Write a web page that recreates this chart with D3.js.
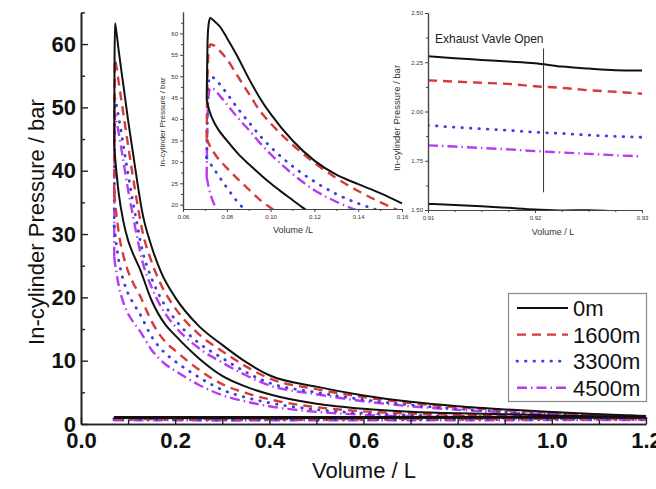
<!DOCTYPE html>
<html>
<head>
<meta charset="utf-8">
<script src="https://cdn.jsdelivr.net/npm/d3@7/dist/d3.min.js"></script>
<style>
  html, body { margin: 0; padding: 0; background: #fff; }
  svg { display: block; font-family: "Liberation Sans", Arial, Helvetica, sans-serif; }
</style>
</head>
<body>
<svg id="chart" width="656" height="489"></svg>
<script>
// ---------------- data ----------------
const altitudes = ["0m", "1600m", "3300m", "4500m"];

// Main P-V diagram: combustion rise + expansion stroke (volume in L, pressure in bar)
const expansionVolume = [0.0705, 0.0712, 0.0722, 0.075, 0.08, 0.09, 0.10, 0.11, 0.12, 0.13, 0.15, 0.17, 0.20,
  0.25, 0.30, 0.35, 0.40, 0.50, 0.60, 0.70, 0.80, 0.90, 1.00, 1.10, 1.20];
const expansion0m    = [44, 57, 63.3, 62, 59, 53.5, 48, 43, 38, 33.5, 28, 24, 20, 15.5, 12.5, 9.8, 7.7, 5.9, 4.5, 3.5, 2.8, 2.3, 1.9, 1.55, 1.25];
const expansion1600m = [36.5, 51, 57.5, 56.5, 54, 49, 44, 39.2, 34.6, 30.6, 25.6, 22, 18.3, 14.2, 11.5, 9.1, 7.2, 5.5, 4.25, 3.3, 2.65, 2.17, 1.8, 1.48, 1.2];
const expansion3300m = [31.2, 46, 51.5, 50.5, 48.5, 44, 39.5, 35.2, 31.2, 27.5, 23, 19.8, 16.5, 12.8, 10.4, 8.2, 6.5, 5.0, 3.85, 3.0, 2.4, 1.94, 1.62, 1.35, 1.12];
const expansion4500m = [26.4, 43, 49, 48, 46, 41.5, 37, 33, 29.2, 25.8, 21.6, 18.5, 15.4, 12, 9.7, 7.7, 6.1, 4.7, 3.6, 2.8, 2.25, 1.84, 1.54, 1.28, 1.08];

// Main P-V diagram: compression stroke
const compressionVolume = [0.0705, 0.072, 0.075, 0.08, 0.09, 0.10, 0.11, 0.125, 0.15, 0.18, 0.20, 0.25, 0.30,
  0.35, 0.40, 0.50, 0.60, 0.70, 0.80, 0.90, 1.00, 1.10, 1.20];
const compression0m    = [44, 42.5, 40, 36.5, 32, 29, 27, 24.5, 19.5, 15.6, 14, 10.4, 7.6, 5.9, 4.7, 3.2, 2.4, 1.95, 1.7, 1.55, 1.35, 1.2, 1.05];
const compression1600m = [36.5, 35.3, 33.2, 30.3, 26.6, 24.1, 22.4, 20.3, 16.2, 12.9, 11.6, 8.6, 6.3, 4.9, 3.9, 2.65, 2.0, 1.65, 1.45, 1.3, 1.15, 1.02, 0.9];
const compression3300m = [31.2, 30.2, 28.4, 25.9, 22.7, 20.6, 19.2, 17.4, 13.8, 11.1, 9.9, 7.4, 5.4, 4.2, 3.35, 2.27, 1.7, 1.4, 1.22, 1.1, 0.98, 0.88, 0.78];
const compression4500m = [26.4, 25.5, 24, 21.9, 19.2, 17.4, 16.2, 14.7, 11.7, 9.4, 8.4, 6.2, 4.55, 3.55, 2.8, 1.92, 1.45, 1.18, 1.03, 0.93, 0.82, 0.73, 0.65];

// Gas exchange (exhaust and intake strokes)
const gasExchangeVolume = [0.07, 0.30, 0.60, 0.90, 1.20];
const exhaust0m    = [1.12, 1.10, 1.12, 1.15, 1.20];
const exhaust1600m = [0.98, 0.96, 0.98, 1.00, 1.05];
const exhaust3300m = [0.86, 0.84, 0.86, 0.88, 0.92];
const exhaust4500m = [0.76, 0.74, 0.76, 0.78, 0.82];
const intake0m     = [0.95, 0.92, 0.94, 0.97, 1.00];
const intake1600m  = [0.80, 0.78, 0.80, 0.83, 0.86];
const intake3300m  = [0.68, 0.66, 0.68, 0.70, 0.74];
const intake4500m  = [0.58, 0.56, 0.58, 0.60, 0.63];

// Detail panel near TDC
const tdcExpansionVolume = [0.0708, 0.0712, 0.0718, 0.0725, 0.074, 0.077, 0.08, 0.085, 0.09, 0.095, 0.10, 0.11, 0.12, 0.13, 0.14, 0.15, 0.16];
const tdcExpansion0m    = [44.5, 58, 62.5, 63.6, 63, 61.5, 59, 54.5, 49.5, 45, 41.2, 35, 30.3, 27, 24.8, 22.7, 20.3];
const tdcExpansion1600m = [35.5, 50, 56, 57.4, 57.2, 55.8, 54, 50, 46, 42, 39, 34, 29.8, 26.2, 23.2, 20.6, 18.3];
const tdcExpansion3300m = [31, 44, 49, 50, 49.6, 48, 46, 42.5, 39.3, 36.2, 33.5, 29, 25.4, 22.5, 20.3, 18.6, 17.2];
const tdcExpansion4500m = [26.5, 40, 46, 47.2, 47, 45.3, 43.5, 40.3, 37.5, 34.5, 31.8, 27.2, 23.4, 20.7, 18.6, 17, 15.8];
const tdcCompressionVolume = [0.0708, 0.072, 0.075, 0.08, 0.085, 0.09, 0.095, 0.10, 0.105, 0.11, 0.115, 0.12];
const tdcCompression0m    = [44.5, 42, 38.5, 35, 32, 29.5, 27.2, 25, 23, 21.1, 19.2, 17.5];
const tdcCompression1600m = [35.5, 34, 31.5, 28.6, 26, 23.6, 21.2, 19.3, 17.5, 16, 14.6, 13.3];
const tdcCompression3300m = [31, 30, 27.7, 24, 20.6, 18, 16, 14.5, 13.2, 12, 11, 10];
const tdcCompression4500m = [26.5, 23.5, 19.3, 16.5, 14.5, 13, 11.8, 10.8, 10, 9.2, 8.5, 7.9];

// Detail panel around exhaust valve opening
const evoVolume = [0.910, 0.9125, 0.915, 0.9175, 0.920, 0.9225, 0.925, 0.9275, 0.930];
const evoExpansion0m    = [2.28, 2.27, 2.262, 2.254, 2.245, 2.228, 2.218, 2.21, 2.208];
const evoExpansion1600m = [2.158, 2.152, 2.146, 2.14, 2.128, 2.12, 2.108, 2.10, 2.09];
const evoExpansion3300m = [1.93, 1.92, 1.912, 1.904, 1.895, 1.888, 1.88, 1.874, 1.869];
const evoExpansion4500m = [1.828, 1.822, 1.815, 1.808, 1.799, 1.792, 1.785, 1.778, 1.772];
const evoCompression0m  = [1.531, 1.526, 1.519, 1.511, 1.503, 1.498, 1.499, 1.494, 1.49];
const evoMarkerVolume = 0.9208;
const evoMarkerPressure = [1.59, 2.32];
const evoNote = "Exhaust Vavle Open";

// Axis ticks
const mainYMajor = [0, 10, 20, 30, 40, 50, 60];
const mainYMinor = [5, 15, 25, 35, 45, 55, 65];
const mainXMajor = [0, 0.2, 0.4, 0.6, 0.8, 1.0, 1.2];
const mainXMinor = [0.1, 0.3, 0.5, 0.7, 0.9, 1.1];
const tdcYTicks = [20, 25, 30, 35, 40, 45, 50, 55, 60];
const tdcYMinor = [22.5, 27.5, 32.5, 37.5, 42.5, 47.5, 52.5, 57.5, 62.5];
const tdcXTicks = [0.06, 0.08, 0.10, 0.12, 0.14, 0.16];
const tdcXMinor = [0.07, 0.09, 0.11, 0.13, 0.15];
const evoYTicks = [1.50, 1.75, 2.00, 2.25, 2.50];
const evoYMinor = [1.625, 1.875, 2.125, 2.375];
const evoXTicks = [0.91, 0.92, 0.93];
const evoXMinor = [0.9125, 0.915, 0.9175, 0.9225, 0.925, 0.9275];

// ---------------- styles ----------------
const lineStyles = [
  { color: "#111111", width: 2.0, dash: null, cap: "butt" },
  { color: "#d63b3b", width: 2.4, dash: "9,6", cap: "butt" },
  { color: "#3d3de3", width: 2.8, dash: "0.5,8", cap: "round" },
  { color: "#b63cf2", width: 2.4, dash: "10,4,1.5,4", cap: "butt" }
];

const svg = d3.select("#chart");
const zip = (xs, ys) => xs.map((v, i) => [v, ys[i]]);

function drawLine(g, pts, sx, sy, style, curve) {
  const line = d3.line().x(d => sx(d[0])).y(d => sy(d[1])).curve(curve || d3.curveMonotoneX);
  g.append("path")
    .attr("d", line(pts))
    .attr("fill", "none")
    .attr("stroke", style.color)
    .attr("stroke-width", style.width)
    .attr("stroke-linecap", style.cap)
    .attr("stroke-linejoin", "round")
    .attr("stroke-dasharray", style.dash);
}

// ---------------- main chart ----------------
const x = d3.scaleLinear().domain([0, 1.2]).range([81, 646]);
const y = d3.scaleLinear().domain([0, 65]).range([424, 12.4]);

const expansionSets = [expansion0m, expansion1600m, expansion3300m, expansion4500m];
const compressionSets = [compression0m, compression1600m, compression3300m, compression4500m];
const exhaustSets = [exhaust0m, exhaust1600m, exhaust3300m, exhaust4500m];
const intakeSets = [intake0m, intake1600m, intake3300m, intake4500m];

const plot = svg.append("g");
// lower-pressure altitudes first so the 0m trace sits on top
for (let i = altitudes.length - 1; i >= 0; i--) {
  const st = lineStyles[i];
  drawLine(plot, zip(gasExchangeVolume, intakeSets[i]), x, y, st, d3.curveLinear);
  drawLine(plot, zip(gasExchangeVolume, exhaustSets[i]), x, y, st, d3.curveLinear);
  drawLine(plot, zip(compressionVolume, compressionSets[i]), x, y, st);
  drawLine(plot, zip(expansionVolume, expansionSets[i]), x, y, st);
}

const axisColor = "#222";
const yMajor = svg.append("g").attr("transform", `translate(${x(0)},0)`)
  .call(d3.axisLeft(y).tickValues(mainYMajor).tickSizeInner(-7).tickSizeOuter(0).tickPadding(5).tickFormat(d3.format("d")));
const yMinor = svg.append("g").attr("transform", `translate(${x(0)},0)`)
  .call(d3.axisLeft(y).tickValues(mainYMinor).tickSizeInner(-4).tickSizeOuter(0).tickFormat(""));
const xMajor = svg.append("g").attr("transform", `translate(0,${y(0)})`)
  .call(d3.axisBottom(x).tickValues(mainXMajor).tickSizeInner(-7).tickSizeOuter(0).tickPadding(8).tickFormat(d3.format(".1f")));
const xMinor = svg.append("g").attr("transform", `translate(0,${y(0)})`)
  .call(d3.axisBottom(x).tickValues(mainXMinor).tickSizeInner(-4).tickSizeOuter(0).tickFormat(""));

[yMajor, yMinor, xMajor, xMinor].forEach(g => {
  g.select(".domain").attr("stroke", axisColor).attr("stroke-width", 1.6);
  g.selectAll(".tick line").attr("stroke", axisColor).attr("stroke-width", 1.4);
  g.selectAll(".tick text").attr("fill", "#111").attr("font-size", 22).attr("font-weight", "bold")
    .attr("font-family", "'Liberation Sans', Arial, sans-serif");
});

svg.append("text").attr("x", 364).attr("y", 478).attr("text-anchor", "middle")
  .attr("font-size", 22).attr("fill", "#111").text("Volume / L");
svg.append("text").attr("transform", "translate(44,222) rotate(-90)").attr("text-anchor", "middle")
  .attr("font-size", 22).attr("fill", "#111").text("In-cylinder Pressure / bar");

// ---------------- legend ----------------
const legend = svg.append("g");
legend.append("rect").attr("x", 508.5).attr("y", 293.5).attr("width", 138).attr("height", 108)
  .attr("fill", "#fff").attr("stroke", "#888").attr("stroke-width", 1.2);
altitudes.forEach((name, i) => {
  const cy = 308 + i * 26.6;
  const st = lineStyles[i];
  legend.append("line").attr("x1", 517).attr("x2", 568).attr("y1", cy).attr("y2", cy)
    .attr("stroke", st.color).attr("stroke-width", st.width).attr("stroke-dasharray", st.dash)
    .attr("stroke-linecap", st.cap);
  legend.append("text").attr("x", 573).attr("y", cy + 8).attr("font-size", 22).attr("fill", "#111").text(name);
});

// small-panel axis helper
function styleSmallAxis(g) {
  g.select(".domain").attr("stroke", "#444").attr("stroke-width", 1.2);
  g.selectAll(".tick line").attr("stroke", "#444");
  g.selectAll(".tick text").attr("font-size", 6).attr("fill", "#333")
    .attr("font-family", "'Liberation Sans', Arial, sans-serif");
}

// ---------------- detail panel: near TDC ----------------
const x1 = d3.scaleLinear().domain([0.06, 0.16]).range([183, 402]);
const y1 = d3.scaleLinear().domain([19, 65]).range([209, 12]);
svg.append("clipPath").attr("id", "clipTdc").append("rect")
  .attr("x", 183).attr("y", 10).attr("width", 220).attr("height", 199);
const tdc = svg.append("g");
const tdcPlot = tdc.append("g").attr("clip-path", "url(#clipTdc)");
const tdcExp = [tdcExpansion0m, tdcExpansion1600m, tdcExpansion3300m, tdcExpansion4500m];
const tdcComp = [tdcCompression0m, tdcCompression1600m, tdcCompression3300m, tdcCompression4500m];
for (let i = altitudes.length - 1; i >= 0; i--) {
  drawLine(tdcPlot, zip(tdcCompressionVolume, tdcComp[i]), x1, y1, lineStyles[i]);
  drawLine(tdcPlot, zip(tdcExpansionVolume, tdcExp[i]), x1, y1, lineStyles[i]);
}
[
  d3.axisLeft(y1).tickValues(tdcYTicks).tickSizeInner(3).tickSizeOuter(0).tickPadding(2).tickFormat(d3.format("d")),
  d3.axisLeft(y1).tickValues(tdcYMinor).tickSizeInner(2).tickSizeOuter(0).tickFormat("")
].forEach(a => styleSmallAxis(tdc.append("g").attr("transform", "translate(183,0)").call(a)));
[
  d3.axisBottom(x1).tickValues(tdcXTicks).tickSizeInner(3).tickSizeOuter(0).tickPadding(3).tickFormat(d3.format(".2f")),
  d3.axisBottom(x1).tickValues(tdcXMinor).tickSizeInner(2).tickSizeOuter(0).tickFormat("")
].forEach(a => styleSmallAxis(tdc.append("g").attr("transform", "translate(0,209)").call(a)));
tdc.append("text").attr("x", 293).attr("y", 233).attr("text-anchor", "middle")
  .attr("font-size", 9).attr("fill", "#333").text("Volume /L");
tdc.append("text").attr("transform", "translate(165,122) rotate(-90)").attr("text-anchor", "middle")
  .attr("font-size", 8).attr("fill", "#333").text("In-cylinder Pressure / bar");

// ---------------- detail panel: exhaust valve opening ----------------
const x2 = d3.scaleLinear().domain([0.91, 0.93]).range([428, 642]);
const y2 = d3.scaleLinear().domain([1.5, 2.5]).range([210, 13]);
svg.append("clipPath").attr("id", "clipEvo").append("rect")
  .attr("x", 428).attr("y", 10).attr("width", 214).attr("height", 200);
const evo = svg.append("g");
const evoPlot = evo.append("g").attr("clip-path", "url(#clipEvo)");
const evoExp = [evoExpansion0m, evoExpansion1600m, evoExpansion3300m, evoExpansion4500m];
for (let i = altitudes.length - 1; i >= 0; i--) {
  drawLine(evoPlot, zip(evoVolume, evoExp[i]), x2, y2, lineStyles[i]);
}
drawLine(evoPlot, zip(evoVolume, evoCompression0m), x2, y2, lineStyles[0]);
evo.append("line")
  .attr("x1", x2(evoMarkerVolume)).attr("x2", x2(evoMarkerVolume))
  .attr("y1", y2(evoMarkerPressure[1])).attr("y2", y2(evoMarkerPressure[0]))
  .attr("stroke", "#333").attr("stroke-width", 1);
evo.append("text").attr("x", 435).attr("y", 43).attr("font-size", 12).attr("fill", "#222").text(evoNote);
[
  d3.axisLeft(y2).tickValues(evoYTicks).tickSizeInner(3).tickSizeOuter(0).tickPadding(2).tickFormat(d3.format(".2f")),
  d3.axisLeft(y2).tickValues(evoYMinor).tickSizeInner(2).tickSizeOuter(0).tickFormat("")
].forEach(a => styleSmallAxis(evo.append("g").attr("transform", "translate(428,0)").call(a)));
[
  d3.axisBottom(x2).tickValues(evoXTicks).tickSizeInner(3).tickSizeOuter(0).tickPadding(3).tickFormat(d3.format(".2f")),
  d3.axisBottom(x2).tickValues(evoXMinor).tickSizeInner(2).tickSizeOuter(0).tickFormat("")
].forEach(a => styleSmallAxis(evo.append("g").attr("transform", "translate(0,210)").call(a)));
evo.append("text").attr("x", 553).attr("y", 235).attr("text-anchor", "middle")
  .attr("font-size", 9).attr("fill", "#333").text("Volume / L");
evo.append("text").attr("transform", "translate(400,118) rotate(-90)").attr("text-anchor", "middle")
  .attr("font-size", 9.5).attr("fill", "#333").text("In-cylinder Pressure / bar");
</script>
</body>
</html>
